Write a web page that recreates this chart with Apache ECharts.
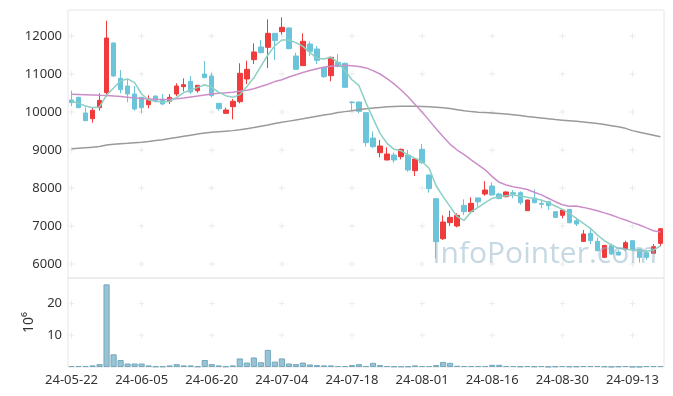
<!DOCTYPE html>
<html><head><meta charset="utf-8">
<script src="https://cdn.jsdelivr.net/npm/echarts@6/dist/echarts.min.js"></script>
<style>html,body{margin:0;padding:0;background:#fff}#c{width:673px;height:396px}</style>
</head><body><div id="c"></div>
<script>
const dates = ['24-05-22','24-05-23','24-05-24','24-05-27','24-05-28','24-05-29','24-05-30','24-05-31','24-06-03','24-06-04',
'24-06-05','24-06-07','24-06-10','24-06-11','24-06-12','24-06-13','24-06-14','24-06-17','24-06-18','24-06-19',
'24-06-20','24-06-21','24-06-24','24-06-25','24-06-26','24-06-27','24-06-28','24-07-01','24-07-02','24-07-03',
'24-07-04','24-07-05','24-07-08','24-07-09','24-07-10','24-07-11','24-07-12','24-07-15','24-07-16','24-07-17',
'24-07-18','24-07-19','24-07-22','24-07-23','24-07-24','24-07-25','24-07-26','24-07-29','24-07-30','24-07-31',
'24-08-01','24-08-02','24-08-05','24-08-06','24-08-07','24-08-08','24-08-09','24-08-12','24-08-13','24-08-14',
'24-08-16','24-08-19','24-08-20','24-08-21','24-08-22','24-08-23','24-08-26','24-08-27','24-08-28','24-08-29',
'24-08-30','24-09-02','24-09-03','24-09-04','24-09-05','24-09-06','24-09-09','24-09-10','24-09-11','24-09-12',
'24-09-13','24-09-19','24-09-20','24-09-23','24-09-24'];
const opens = [10316,10386,9974,9825,10114,10509,11816,10886,10684,10474,
10386,10193,10421,10333,10281,10474,10667,10807,10561,11000,
10947,10228,9965,10140,10272,10868,11377,11711,11702,12070,
12114,12211,11474,11219,11790,11658,11175,10956,11307,11281,
10263,10263,9983,9316,8930,8737,8868,8825,8868,8456,
9018,8342,7719,6667,7088,7000,7544,7377,7740,7842,
8053,7842,7772,7877,7877,7404,7737,7596,7640,7377,
7281,7438,7140,6596,6807,6596,6175,6491,6315,6403,
6614,6386,6298,6280,6543];
const closes = [10246,10114,9772,10044,10307,11947,10947,10588,10474,10079,
10114,10316,10281,10211,10386,10684,10719,10526,10702,10904,
10430,10088,10053,10281,11018,11123,11579,11561,12070,11877,
12228,11667,11123,11860,11597,11360,10930,11439,11202,10649,
10246,10018,9193,9088,9105,8895,8737,9018,8474,8763,
8667,7982,6588,7105,7228,7281,7377,7596,7636,7947,
7816,7728,7895,7842,7614,7684,7614,7570,7535,7228,
7421,7087,7052,6789,6614,6350,6491,6263,6236,6561,
6386,6175,6175,6456,6929];
const lows = [10149,10100,9760,9719,10035,10403,10930,10491,10254,10035,
9974,10097,10250,10180,10211,10421,10544,10474,10509,10890,
10386,10035,9947,9807,10228,10737,11263,11540,11158,11368,
12035,11650,11105,11210,11474,11263,10895,10807,11175,10640,
10035,9965,9088,9053,8807,8730,8667,8754,8430,8316,
8632,7877,6149,6632,7000,6965,7290,7368,7509,7798,
7807,7702,7754,7728,7561,7400,7596,7465,7421,7210,
7202,7070,7000,6578,6526,6333,6157,6245,6228,6350,
6380,6035,6105,6263,6473];
const highs = [10561,10400,10123,10123,10491,12404,11830,11105,10842,10684,
10400,10439,10430,10474,10474,10754,10886,10947,10710,11342,
11035,10240,10114,10342,11281,11351,11807,11895,12439,12080,
12491,12230,11561,12070,11860,11737,11185,11456,11526,11300,
10281,10270,10000,9491,9263,9070,8930,9035,9000,8770,
9158,8350,7730,7281,7404,7333,7702,7754,7745,8180,
8149,7877,7912,7947,7912,7690,7965,7684,7645,7380,
7425,7440,7193,6894,6912,6701,6495,6543,6368,6613,
6620,6390,6368,6526,6935];
const ma5 = [10281,10228,10158,10114,10132,10447,10632,10825,10870,10772,
10474,10316,10281,10263,10281,10386,10509,10579,10649,10719,
10649,10518,10430,10386,10456,10667,10900,11200,11500,11746,
11895,11895,11825,11728,11570,11412,11395,11439,11307,11088,
10850,10693,10240,9833,9439,9175,9018,8982,8868,8781,
8693,8518,8060,7772,7509,7246,7150,7377,7491,7614,
7728,7772,7798,7816,7789,7754,7719,7684,7614,7526,
7439,7333,7202,7070,6938,6763,6614,6500,6412,6386,
6368,6350,6333,6368,6480];
const ma20 = [10465,10460,10455,10448,10440,10435,10420,10405,10390,10370,
10355,10345,10335,10330,10335,10350,10370,10395,10420,10450,
10475,10495,10505,10520,10545,10570,10610,10670,10730,10800,
10850,10920,10980,11040,11090,11140,11180,11205,11225,11230,
11220,11200,11160,11090,11000,10880,10740,10580,10400,10200,
10000,9780,9560,9350,9150,9000,8880,8740,8610,8480,
8300,8150,8080,8035,8000,7960,7890,7820,7730,7640,
7560,7520,7526,7490,7450,7400,7345,7290,7220,7160,
7090,7026,6950,6877,6842];
const maLong = [9030,9045,9060,9075,9090,9130,9150,9165,9175,9190,
9205,9225,9250,9270,9300,9330,9360,9390,9420,9445,
9465,9480,9495,9510,9530,9560,9590,9625,9660,9700,
9730,9760,9790,9820,9855,9890,9920,9950,9985,10010,
10035,10060,10085,10105,10120,10135,10145,10150,10150,10150,
10145,10135,10125,10110,10090,10060,10030,10010,9995,9985,
9975,9960,9945,9925,9905,9880,9860,9840,9820,9800,
9785,9770,9755,9740,9720,9700,9670,9640,9610,9570,
9510,9470,9430,9390,9350];
const volumes = [0.3,0.3,0.3,0.5,0.9,26.0,4.0,2.2,1.1,1.1,
1.1,0.5,0.2,0.2,0.5,0.9,0.5,0.5,0.2,2.2,
0.9,0.5,0.2,0.5,2.7,1.4,3.0,1.5,5.4,1.7,
2.7,1.1,0.9,1.4,0.8,0.6,0.5,0.5,0.3,0.3,
0.6,0.9,0.3,1.3,0.6,0.3,0.2,0.2,0.2,0.5,
0.3,0.3,0.6,1.6,1.3,0.4,0.3,0.3,0.3,0.3,
0.7,0.7,0.3,0.3,0.2,0.3,0.2,0.3,0.1,0.2,
0.3,0.2,0.2,0.3,0.3,0.3,0.2,0.1,0.2,0.3,
0.1,0.1,0.3,0.3,0.3];
const priceTicks = [6000,7000,8000,9000,10000,11000,12000];
const volumeTicks = [10,20];
const labelEvery = 10;

const candleData = dates.map((d,i)=>[opens[i],closes[i],lows[i],highs[i]]);
const tickIdx = dates.map((d,i)=>i).filter(i=>i%labelEvery===0);
const crossMain = [], crossVol = [];
tickIdx.forEach(i=>{ priceTicks.forEach(v=>crossMain.push([i,v])); volumeTicks.forEach(v=>crossVol.push([i,v])); });
const plus = 'path://M2.6,0h0.8v6h-0.8zM0,2.6h6v0.8h-6z';
const FONT = '"Noto Sans", sans-serif';

const chart = echarts.init(document.getElementById('c'));
chart.setOption({
  animation:false,
  backgroundColor:'#fff',
  grid:[
    {left:68,right:9,top:10,height:268,show:true,borderColor:'#e6e6e6',borderWidth:1},
    {left:68,right:9,top:278,height:89,show:true,borderColor:'#e6e6e6',borderWidth:1}
  ],
  xAxis:[
    {type:'category',gridIndex:0,data:dates,boundaryGap:true,axisLine:{show:false},axisTick:{show:false},axisLabel:{show:false},splitLine:{show:false}},
    {type:'category',gridIndex:1,data:dates,boundaryGap:true,axisLine:{show:false},axisTick:{show:false},
     axisLabel:{interval:labelEvery-1,color:'#333',fontSize:13,fontFamily:FONT,margin:7},splitLine:{show:false}}
  ],
  yAxis:[
    {type:'value',gridIndex:0,min:5632,max:12684,splitNumber:7,axisLine:{show:false},axisTick:{show:false},splitLine:{show:false},
     axisLabel:{color:'#333',fontSize:13,fontFamily:FONT,margin:6,formatter:v=>priceTicks.includes(v)?String(v):''}},
    {type:'value',gridIndex:1,min:0,max:28,interval:10,axisLine:{show:false},axisTick:{show:false},splitLine:{show:false},
     name:'10\u2076',nameLocation:'middle',nameRotate:90,nameGap:31,nameTextStyle:{color:'#333',fontSize:14,fontFamily:FONT},
     axisLabel:{color:'#333',fontSize:13,fontFamily:FONT,margin:6,formatter:v=>volumeTicks.includes(v)?String(v):''}}
  ],
  graphic:[{type:'text',right:16,top:239,z:100,silent:true,
    style:{text:'InfoPointer.com',font:'30px "Open Sans", sans-serif',fill:'rgba(140,178,200,0.5)'}}],
  series:[
    {type:'scatter',xAxisIndex:0,yAxisIndex:0,data:crossMain,symbol:plus,symbolSize:6,itemStyle:{color:'#e2e2e2'},z:1,silent:true},
    {type:'scatter',xAxisIndex:1,yAxisIndex:1,data:crossVol,symbol:plus,symbolSize:6,itemStyle:{color:'#e2e2e2'},z:1,silent:true},
    {type:'candlestick',xAxisIndex:0,yAxisIndex:0,data:candleData,barWidth:5,
     itemStyle:{color:'#ef3b3b',color0:'#6cc4da',borderColor:'#ef3b3b',borderColor0:'#6cc4da',borderWidth:1},z:3},
    {type:'line',xAxisIndex:0,yAxisIndex:0,data:maLong,symbol:'none',lineStyle:{color:'#9a9a9a',width:1.5},z:4},
    {type:'line',xAxisIndex:0,yAxisIndex:0,data:ma20,symbol:'none',lineStyle:{color:'#cc8ec9',width:1.5},z:4},
    {type:'line',xAxisIndex:0,yAxisIndex:0,data:ma5,symbol:'none',lineStyle:{color:'#8ccfc3',width:1.5},z:4},
    {type:'bar',xAxisIndex:1,yAxisIndex:1,data:volumes,barWidth:'88%',
     itemStyle:{color:'#98c3d4',borderColor:'#74a8be',borderWidth:1},z:3}
  ]
});
</script></body></html>
